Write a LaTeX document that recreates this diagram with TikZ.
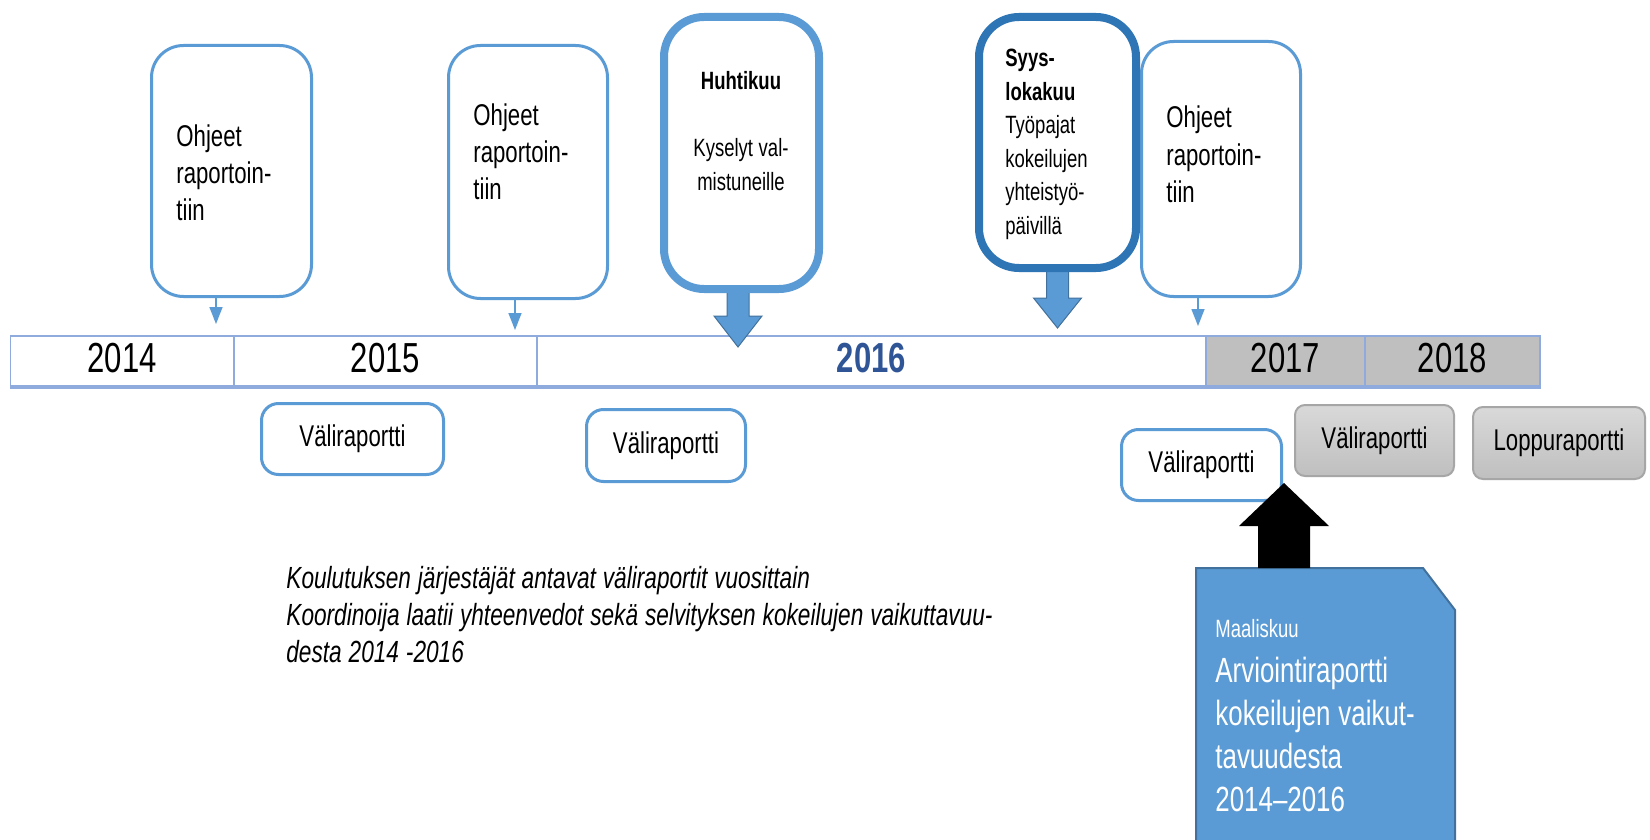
\documentclass[tikz,border=0pt]{standalone}
\usepackage{fontspec}
\setmainfont{Liberation Sans}[FakeStretch=0.74, WordSpace=1.1]
\usetikzlibrary{arrows.meta}
\definecolor{lb}{HTML}{5B9BD5}
\definecolor{db}{HTML}{2E75B6}
\definecolor{ab}{HTML}{41719C}
\definecolor{yb}{HTML}{2F5597}
\definecolor{barc}{HTML}{8FAADC}
\definecolor{cellg}{HTML}{BFBFBF}
\definecolor{cellt}{HTML}{D9D9D9}
\definecolor{gbord}{HTML}{A6A6A6}
\newcommand{\fsz}[2]{\fontsize{#1}{#2}\selectfont}
\begin{document}
\begin{tikzpicture}[x=0.5pt,y=-0.5pt,
  ohbox/.style={draw=lb, line width=1.5pt, rounded corners=16pt, fill=white, inner sep=0pt},
  thickbox/.style={draw=lb, line width=4pt, rounded corners=20pt, fill=white, inner sep=0pt},
  cell/.style={draw=barc, line width=0.75pt, minimum height=25pt, inner sep=0pt,
    font=\fsz{21}{24}, text depth=3pt},
  vbox/.style={draw=lb, line width=1.5pt, rounded corners=8.5pt, fill=white, inner sep=0pt,
    font=\fsz{15}{18}},
  gbox/.style={draw=gbord, line width=1pt, rounded corners=5pt, top color=cellt, bottom color=cellg,
    inner sep=0pt, font=\fsz{15}{18}},
  txt/.style={inner sep=0pt, anchor=base west, align=flush left},
  ohtxt/.style={txt, text width=70pt, font=\fsz{15}{18.5}},
  smallarr/.style={draw=lb, line width=0.75pt, -{Triangle[length=8.5pt,width=6.5pt]}},
  blockarr/.style={fill=lb, draw=ab, line width=0.5pt, line join=miter},
]
\path[use as bounding box, fill=white] (0,0) rectangle (1650,840);

% timeline bar
\node[cell, fill=white, minimum width=111.75pt] (c14) at (122.25,361) {2014};
\node[cell, fill=white, minimum width=151.5pt] (c15) at (385.5,361) {2015};
\node[cell, fill=white, minimum width=334.5pt, text=yb, font=\bfseries\fsz{21}{24}] (c16) at (871.5,361) {2016};
\node[cell, fill=cellg, minimum width=79.5pt] (c17) at (1285.5,361) {2017};
\node[cell, fill=cellg, minimum width=87.5pt] (c18) at (1452.5,361) {2018};
\draw[barc, line width=1.75pt] (c14.south west) -- (c18.south east);

% upper boxes
\node[ohbox, minimum width=80pt, minimum height=125.5pt] (b1) at (231.5,171) {};
\node[ohbox, minimum width=79.5pt, minimum height=126.5pt] (b2) at (528,172) {};
\node[ohbox, minimum width=79.5pt, minimum height=127.5pt] (b5) at (1221,169) {};

\coordinate (a1) at (216,324);
\coordinate (a2) at (515,330);
\coordinate (a5) at (1198,326);
\draw[smallarr] (b1.south -| a1) -- (a1);
\draw[smallarr] (b2.south -| a2) -- (a2);
\draw[smallarr] (b5.south -| a5) -- (a5);

\coordinate (a3) at (738,289);
\coordinate (a4) at (1057.5,268);
\draw[blockarr] ([xshift=-5.5pt]a3) -- ++(0,27) -- ++(-13,0) -- ++(24,31) -- ++(24,-31) -- ++(-13,0) -- ++(0,-27) -- cycle;
\draw[blockarr] ([xshift=-5.5pt]a4) -- ++(0,30) -- ++(-13,0) -- ++(24,30) -- ++(24,-30) -- ++(-13,0) -- ++(0,-30) -- cycle;

\node[thickbox, minimum width=77.5pt, minimum height=136pt] (b3) at (741.5,153) {};
\node[thickbox, draw=db, minimum width=78.5pt, minimum height=125.5pt] (b4) at (1057.5,142.5) {};

\node[ohtxt] (t1) at (176,147) {Ohjeet\\raportoin-\\tiin};
\node[ohtxt] (t2) at (473,126) {Ohjeet\\raportoin-\\tiin};
\node[ohtxt] (t5) at (1166,128) {Ohjeet\\raportoin-\\tiin};
\node[inner sep=0pt, anchor=base, align=flush center, text width=70pt, font=\fsz{12.5}{16.75}] (t3) at (741,90)
  {\textbf{Huhtikuu}\\[16.75pt]Kyselyt val-\\mistuneille};
\node[txt, text width=70pt, font=\fsz{12.5}{16.75}] (t4) at (1005,67)
  {\textbf{Syys-}\\\textbf{lokakuu}\\Työpajat\\kokeilujen\\yhteistyö-\\päivillä};

% lower boxes
\node[vbox, minimum width=91pt, minimum height=35.5pt] (v1) at (352.5,439) {Väliraportti};
\node[vbox, minimum width=79.5pt, minimum height=36pt] (v2) at (666,445.5) {Väliraportti};
\node[vbox, minimum width=80pt, minimum height=35.5pt] (v3) at (1201.5,465) {Väliraportti};
\node[gbox, minimum width=79.5pt, minimum height=35.5pt] (g1) at (1374.5,440.5) {Väliraportti};
\node[gbox, minimum width=86pt, minimum height=36pt] (g2) at (1559,443) {Loppuraportti};

% note
\node[txt, text width=420pt, font=\itshape\fsz{15.3}{18.5}] (note) at (286,588)
  {Koulutuksen järjestäjät antavat väliraportit vuosittain\\
   Koordinoija laatii yhteenvedot sekä selvityksen kokeilujen vaikuttavuu-\\
   desta 2014 -2016};

% evaluation report
\draw[fill=lb, draw=ab, line width=1pt] (1196,850) -- (1196,568) -- (1423,568) -- (1455,610) -- (1455,850);
\coordinate (bt) at (1284,568);
\coordinate (tip) at (1284,483);
\fill[black] ([xshift=-13pt]bt) -- ++(0,-42) -- ++(-19,0) -- (tip) -- ++(45,43) -- ++(-19,0) -- ([xshift=13pt]bt) -- cycle;
\node[txt, text width=120pt, text=white, font=\fsz{12.5}{15}] (mal) at (1215,637) {Maaliskuu};
\node[txt, text width=120pt, text=white, font=\fsz{17.5}{21.65}] (arv) at (1215,682)
  {Arviointiraportti\\kokeilujen vaikut-\\tavuudesta\\2014–2016};
\end{tikzpicture}
\end{document}
